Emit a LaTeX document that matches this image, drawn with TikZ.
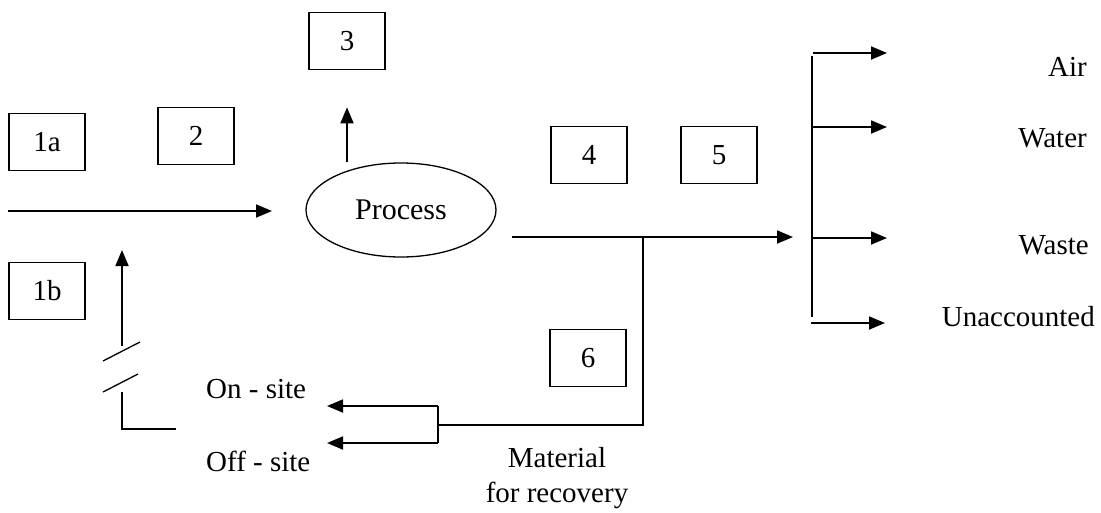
\documentclass[tikz,border=0pt]{standalone}
\usepackage{fontspec}
\setmainfont{Liberation Serif}
\usepackage{tikz}
\usetikzlibrary{positioning,shapes,arrows.meta}
\tikzset{
  numbox/.style={draw,line width=1.7pt,minimum width=76pt,minimum height=57pt,inner sep=0pt},
  flow/.style={line width=1.8pt,-{Triangle[length=16pt,width=13pt]}},
  pipe/.style={line width=1.8pt},
  lbl/.style={inner sep=0pt}
}

\begin{document}
\begin{tikzpicture}[x=1pt,y=-1pt,font=\fontsize{29}{35}\selectfont]
  \useasboundingbox (0,0) rectangle (1101,512);
  % numbered boxes
  \node[numbox] (b1a) at (47,142) {1a};
  \node[numbox] (b1b) at (47,291) {1b};
  \node[numbox] (b2) at (196,136) {2};
  \node[numbox] (b3) at (347,41) {3};
  \node[numbox] (b4) at (589,155) {4};
  \node[numbox] (b5) at (719,155) {5};
  \node[numbox] (b6) at (588,358) {6};
  \node[draw,ellipse,line width=1.3pt,minimum width=190pt,minimum height=94pt,font=\fontsize{30}{35}\selectfont] (process) at (401,210) {Process};
  % labels
  \node[lbl,anchor=east] (air) at (1087,67) {Air};
  \node[lbl,anchor=east] (water) at (1087,138) {Water};
  \node[lbl,anchor=east] (waste) at (1089,245) {Waste};
  \node[lbl,anchor=east] (unacc) at (1095,317) {Unaccounted};
  \node[lbl,anchor=west] (onsite) at (206,389) {On - site};
  \node[lbl,anchor=west] (offsite) at (206,461) {Off - site};
  \node[lbl,align=center] (recov) at (557,478) {Material\\for recovery};
  % points on the flow lines
  \coordinate (feedL) at (8,211);
  \coordinate (feedR) at (272,211);
  \coordinate (outL) at (512,237);
  \coordinate (outR) at (793,237);
  \coordinate (tee) at (643,237);
  \coordinate (teeB) at (643,425);
  \coordinate (fork) at (438,425);
  \coordinate (forkT) at (438,406);
  \coordinate (forkB) at (438,443);
  \coordinate (onTip) at (327,406);
  \coordinate (offTip) at (327,443);
  \coordinate (busT) at (812,56);
  \coordinate (busB) at (812,317);
  \coordinate (retA) at (176,429);
  \coordinate (retB) at (122,429);
  \coordinate (retC) at (122,392);
  \coordinate (retD) at (122,346);
  \coordinate (retE) at (122,250);
  \draw[flow] (feedL) -- (feedR);
  \draw[flow] (b3 |- process.north) -- ++(0,-55);
  \draw[flow] (outL) -- (outR);
  \draw[pipe] (busT) -- (busB);
  \draw[flow] (813,53) -- (887,53);
  \draw[flow] (813,127) -- (887,127);
  \draw[flow] (813,238) -- (887,238);
  \draw[flow] (811,323) -- (885,323);
  \draw[pipe,line width=1.4pt] (tee) -- (teeB) -- (fork);
  \draw[pipe] (forkT) -- (forkB);
  \draw[flow] (forkT) -- (onTip);
  \draw[flow] (forkB) -- (offTip);
  \draw[pipe] (retA) -- (retB) -- (retC);
  \draw[flow] (retD) -- (retE);
  \draw[pipe,line width=1.3pt] (103,361) -- (140,342);
  \draw[pipe,line width=1.3pt] (103,392) -- (138,374);
\end{tikzpicture}
\end{document}
